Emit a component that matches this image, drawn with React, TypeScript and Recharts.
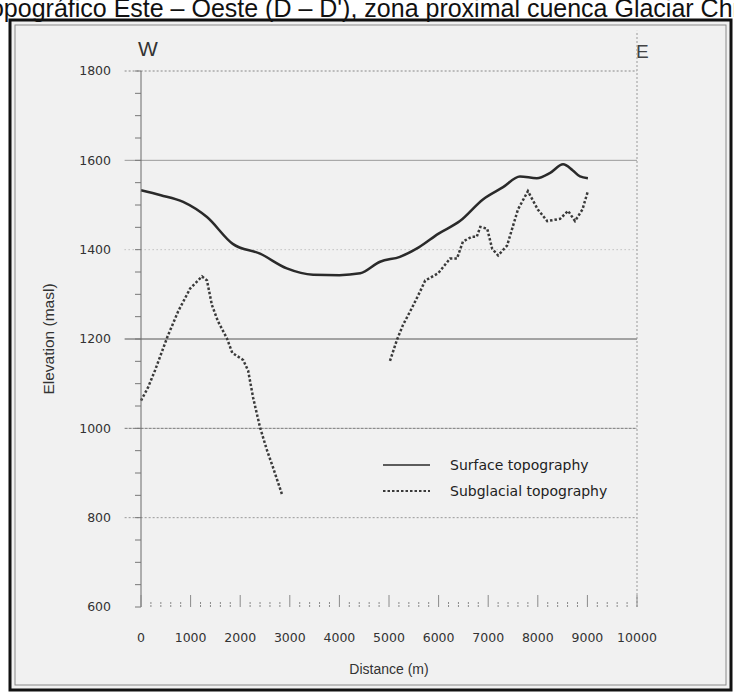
import React from 'react';
import {
  Legend, Line, LineChart, ReferenceLine, XAxis, YAxis,
} from 'recharts';

// surface topography (solid line)
const surfaceDistance = [0, 400, 850, 1330, 1850, 2400, 2940, 3470, 4000, 4420, 4820, 5220, 5600, 6000, 6430, 6900, 7300, 7640, 7980, 8250, 8510, 8700, 8850, 9010];
const surfaceElevation = [1533, 1522, 1507, 1473, 1413, 1391, 1358, 1344, 1343, 1347, 1373, 1384, 1405, 1436, 1464, 1513, 1540, 1564, 1560, 1572, 1591, 1578, 1564, 1560];

// subglacial topography, west part
const subWestDistance = [0, 140, 280, 540, 750, 990, 1230, 1330, 1430, 1550, 1730, 1840, 2060, 2160, 2260, 2400, 2540, 2660, 2840];
const subWestElevation = [1062, 1091, 1129, 1207, 1262, 1313, 1340, 1331, 1276, 1240, 1202, 1169, 1153, 1129, 1069, 1002, 951, 913, 853];

// subglacial topography, east part
const subEastDistance = [5020, 5160, 5280, 5460, 5630, 5730, 5990, 6230, 6370, 6490, 6670, 6770, 6840, 6980, 7080, 7200, 7380, 7440, 7600, 7800, 8000, 8190, 8450, 8610, 8750, 8900, 9010];
const subEastElevation = [1151, 1198, 1231, 1269, 1307, 1331, 1347, 1380, 1380, 1418, 1429, 1429, 1451, 1447, 1402, 1387, 1409, 1431, 1490, 1531, 1490, 1464, 1469, 1487, 1464, 1490, 1531];

const majorXTicks = [0, 1000, 2000, 3000, 4000, 5000, 6000, 7000, 8000, 9000, 10000];
const majorYTicks = [600, 800, 1000, 1200, 1400, 1600, 1800];
const seriesOrder = ['Surface topography', 'Subglacial topography'];

const xTicks = majorXTicks.flatMap((v) => (v < 10000 ? [v, v + 200, v + 400, v + 600, v + 800] : [v]));
const yTicks = majorYTicks.flatMap((v) => (v < 1800 ? [v, v + 50, v + 100, v + 150] : [v]));

const rows = (xs: number[], ys: number[]) => xs.map((d, i) => ({ distance: d, elevation: ys[i] }));

const surfaceData = rows(surfaceDistance, surfaceElevation);
const subglacialData = [
  ...rows(subWestDistance, subWestElevation),
  { distance: 3900, elevation: null },
  ...rows(subEastDistance, subEastElevation),
];

const font = '"Liberation Sans", Arial, sans-serif';
const wideFont = '"DejaVu Sans", sans-serif';

const XTick = (props: any) => {
  const { x, y, payload } = props;
  const major = payload.value % 1000 === 0;
  return (
    <g>
      <line x1={x} x2={x} y1={y} y2={y - (major ? 12 : 6)} stroke="#8a8a8a" strokeWidth={1} strokeDasharray={major ? undefined : '2 1'} />
      {major && (
        <text x={x} y={y + 30} textAnchor="middle" dominantBaseline="central" fontSize={12.5} fill="#333" fontFamily={wideFont}>
          {payload.value}
        </text>
      )}
    </g>
  );
};

const LegendBox = (props: any) => {
  const items = [...(props.payload || [])].sort(
    (a: any, b: any) => seriesOrder.indexOf(a.value) - seriesOrder.indexOf(b.value),
  );
  return (
    <div style={{ fontFamily: wideFont, fontSize: 14, color: '#222' }}>
      {items.map((entry: any) => (
        <div key={entry.value} style={{ display: 'flex', alignItems: 'center', height: 26 }}>
          <svg width={67} height={10}>
            <line
              x1={0}
              x2={47}
              y1={5}
              y2={5}
              stroke={entry.color}
              strokeWidth={entry.payload?.strokeDasharray ? 2 : 1.5}
              strokeDasharray={entry.payload?.strokeDasharray}
            />
          </svg>
          <span>{entry.value}</span>
        </div>
      ))}
    </div>
  );
};

const gridLines = [
  { y: 1800, stroke: '#888', dash: '2 2' },
  { y: 1600, stroke: '#9a9a9a', dash: undefined },
  { y: 1400, stroke: '#aaa', dash: '1 3' },
  { y: 1200, stroke: '#555', dash: undefined },
  { y: 1000, stroke: '#777', dash: '3 1' },
  { y: 800, stroke: '#999', dash: '2 2' },
];

const App = () => (
  <div style={{
    position: 'absolute', left: 0, top: 0, width: 734, height: 693, background: '#fff', overflow: 'hidden',
  }}
  >
    <svg width={734} height={693} style={{ position: 'absolute', left: 0, top: 0 }}>
      <rect x={10} y={20} width={721} height={670} fill="#f1f1f1" stroke="#111" strokeWidth={3} />
      <rect x={15} y={25} width={711} height={660} fill="none" stroke="#8a8a8a" strokeWidth={1} />
      <text x={-17} y={17} fontSize={25} fontFamily={font} fill="#111">
        topográfico Este – Oeste (D – D'), zona proximal cuenca Glaciar Chico
      </text>
      <text x={138} y={56} fontSize={21} fontFamily={font} fill="#333">W</text>
      <text x={636} y={58} fontSize={19} fontFamily={font} fill="#444">E</text>
    </svg>
    <LineChart
      width={734}
      height={693}
      margin={{
        top: 71, right: 97, bottom: 16, left: 41,
      }}
      style={{ position: 'absolute', left: 0, top: 0 }}
    >
      {gridLines.map((g) => (
        <ReferenceLine
          key={g.y}
          segment={[{ x: -330, y: g.y }, { x: 10000, y: g.y }]}
          stroke={g.stroke}
          strokeDasharray={g.dash}
          ifOverflow="visible"
        />
      ))}
      <ReferenceLine
        segment={[{ x: 10000, y: 600 }, { x: 10000, y: 1890 }]}
        stroke="#999"
        strokeDasharray="2 2"
        ifOverflow="visible"
      />
      <XAxis
        type="number"
        dataKey="distance"
        domain={[0, 10000]}
        ticks={xTicks}
        interval={0}
        axisLine={false}
        tickLine={false}
        tickSize={0}
        tickMargin={0}
        tick={<XTick />}
        height={70}
        label={{
          value: 'Distance (m)', position: 'insideBottom', offset: 3, fontSize: 14, fill: '#333', fontFamily: font,
        }}
      />
      <YAxis
        type="number"
        dataKey="elevation"
        domain={[600, 1800]}
        ticks={yTicks}
        interval={0}
        allowDataOverflow
        width={100}
        tickSize={6}
        tickMargin={24}
        tickFormatter={(v: number) => (v % 200 === 0 ? String(v) : '')}
        tick={{ fontSize: 12.5, fill: '#333', fontFamily: wideFont }}
        tickLine={{ stroke: '#777' }}
        axisLine={{ stroke: '#6a6a6a' }}
        label={{
          value: 'Elevation (masl)',
          angle: -90,
          position: 'insideLeft',
          offset: 7,
          fontSize: 15.5,
          fill: '#333',
          fontFamily: font,
          style: { textAnchor: 'middle' },
        }}
      />
      <Legend
        layout="vertical"
        align="center"
        verticalAlign="middle"
        content={<LegendBox />}
        wrapperStyle={{
          left: 383, top: 452, width: 280, bottom: 'auto', right: 'auto',
        }}
      />
      <Line
        data={surfaceData}
        dataKey="elevation"
        name="Surface topography"
        stroke="#2a2a2a"
        strokeWidth={2.5}
        dot={false}
        type="monotone"
        isAnimationActive={false}
      />
      <Line
        data={subglacialData}
        dataKey="elevation"
        name="Subglacial topography"
        stroke="#3a3a3a"
        strokeWidth={2.5}
        strokeDasharray="2.5 2"
        dot={false}
        type="linear"
        isAnimationActive={false}
      />
    </LineChart>
  </div>
);

export default App;
